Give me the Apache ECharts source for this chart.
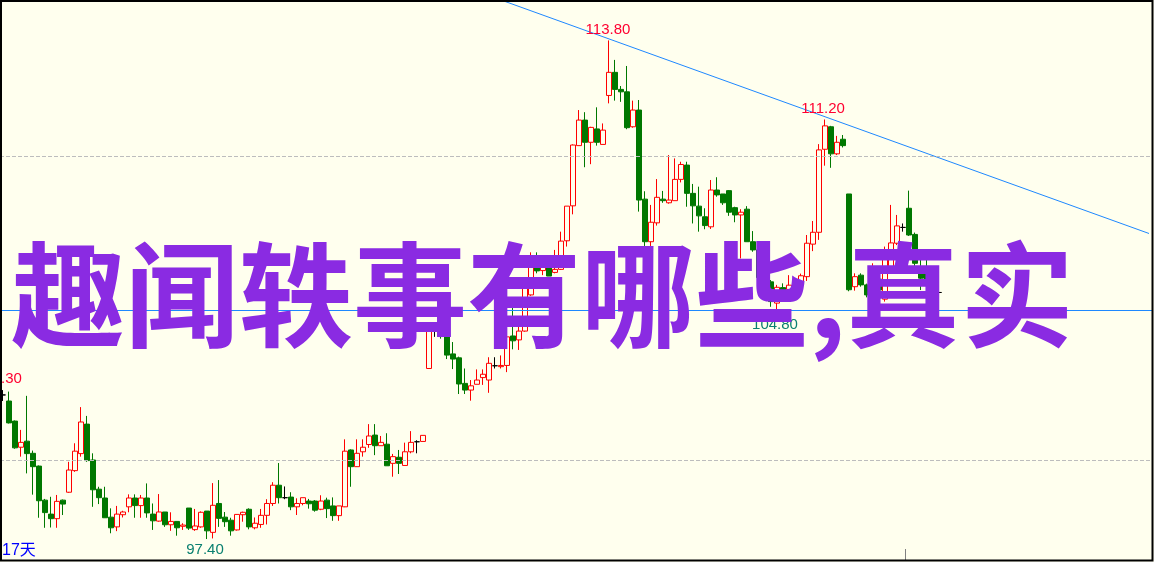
<!DOCTYPE html>
<html>
<head>
<meta charset="utf-8">
<script src="https://cdn.jsdelivr.net/npm/echarts@6/dist/echarts.min.js"></script>
<style>
html,body{margin:0;padding:0;background:#FFFFEE;}
#chart{width:1154px;height:562px;}
</style>
</head>
<body>
<div id="chart"></div>
<script>
// ---- data ----
const opens = [
102.14,101.94,101.28,100.42,100.62,100.22,99.80,98.68,98.22,98.07,
98.68,98.94,99.65,100.21,101.18,100.00,99.04,98.75,98.12,97.80,
98.20,98.46,98.75,98.50,98.75,98.22,97.99,98.29,97.87,97.98,
97.82,98.42,97.71,97.80,98.32,97.62,98.57,98.12,98.02,97.70,
98.20,98.38,97.77,97.88,98.18,98.57,99.17,98.76,98.78,98.46,
98.57,98.65,98.65,98.38,98.68,98.49,98.17,98.46,100.33,99.78,
100.27,100.51,100.82,100.47,100.52,99.89,100.09,99.82,100.27,100.60,
100.61,103.01,104.27,104.22,104.06,103.49,103.36,102.52,102.30,102.49,
102.71,102.63,103.10,103.07,103.11,104.08,103.95,104.24,105.43,106.38,
106.23,106.38,106.17,106.27,107.21,108.36,110.34,111.18,110.45,110.89,
110.38,111.99,112.75,112.19,112.11,110.96,111.51,108.58,107.18,107.80,
108.58,108.46,108.53,109.23,109.70,108.77,108.35,108.00,107.67,108.88,
108.75,108.86,108.30,108.06,108.25,107.18,106.91,106.00,105.86,105.16,
105.67,105.61,105.62,105.86,106.03,107.10,107.49,110.22,110.96,110.07,
110.55,108.75,105.70,106.08,105.76,105.45,105.95,105.29,106.36,107.13,
107.65,108.28,107.42,106.15,106.20,105.90,105.51];
const closes = [
102.14,101.22,100.40,100.58,100.21,99.78,98.66,98.27,98.07,98.64,
98.55,99.67,100.29,101.25,99.98,99.02,98.76,98.10,97.77,98.22,
98.29,98.75,98.50,98.75,98.26,98.00,98.29,97.87,97.98,97.77,
97.86,97.76,97.83,98.28,97.67,98.51,98.08,97.97,97.67,98.21,
98.28,97.80,97.92,98.18,98.57,99.17,98.76,98.76,98.46,98.57,
98.76,98.56,98.35,98.65,98.40,98.17,98.49,100.29,99.78,100.22,
100.42,100.79,100.47,100.58,99.81,100.11,99.89,100.27,100.58,100.60,
100.81,104.25,104.27,104.06,103.45,103.32,102.50,102.30,102.44,102.63,
102.82,103.18,103.10,103.11,104.05,103.92,104.24,105.70,106.36,106.22,
106.34,106.05,106.27,107.20,108.35,110.36,111.18,110.45,110.94,110.45,
110.85,112.75,112.19,112.11,110.93,111.51,108.55,107.18,107.82,108.64,
108.53,108.55,109.23,109.72,108.77,108.36,108.03,107.71,108.88,108.72,
108.46,108.15,108.06,108.15,107.18,106.91,106.00,105.65,105.21,105.68,
105.54,105.75,105.80,106.06,107.13,107.49,110.20,110.99,110.07,110.45,
110.34,105.60,106.03,105.76,105.43,105.90,105.59,106.64,107.14,107.70,
107.65,107.40,106.47,105.98,105.90,105.70,105.51];
const lows = [
101.94,101.20,100.37,100.11,99.56,98.86,98.10,97.77,97.78,97.77,
98.19,98.92,99.61,100.11,99.94,98.46,98.55,98.10,97.59,97.66,
98.11,98.28,98.10,98.10,98.10,97.70,97.97,97.80,97.67,97.51,
97.70,97.70,97.67,97.77,97.40,97.42,97.80,97.80,97.51,97.68,
97.97,97.72,97.72,97.77,97.88,98.49,98.57,98.71,98.35,98.19,
98.51,98.40,98.30,98.35,98.09,98.00,98.00,98.45,99.12,99.77,
100.11,100.40,100.16,100.47,99.81,99.45,99.54,99.82,100.22,100.22,
100.61,103.01,104.05,103.99,103.32,102.99,102.17,102.17,101.95,102.49,
102.47,102.21,103.01,103.01,102.89,103.64,103.62,104.22,105.40,106.14,
106.08,106.05,106.14,106.25,107.02,108.08,110.34,109.63,109.73,110.34,
110.38,111.73,111.82,111.78,110.88,110.93,108.17,107.04,107.04,107.71,
108.46,108.43,108.53,109.13,108.33,107.78,107.51,107.59,107.60,108.66,
108.39,108.03,107.82,106.63,107.18,106.85,105.90,105.40,105.04,104.95,
105.37,105.53,105.50,105.80,105.89,106.87,107.24,109.68,109.61,110.03,
110.28,105.55,105.57,105.70,105.35,105.30,105.50,105.21,106.30,107.07,
107.51,107.37,106.36,105.59,105.69,105.60,105.02];
const highs = [
102.30,102.25,101.30,100.99,102.11,100.31,99.82,98.72,98.79,98.85,
98.70,99.94,100.55,101.74,101.45,100.22,99.12,99.12,98.41,98.49,
98.33,98.87,98.87,98.85,99.23,98.57,98.88,98.29,98.28,97.98,
97.92,98.42,98.39,98.31,98.32,99.24,99.34,98.29,98.10,98.22,
98.30,98.41,98.11,98.39,98.71,99.27,99.90,99.13,98.94,98.74,
98.76,98.72,98.68,98.84,98.76,98.77,98.49,100.68,100.35,100.68,
100.68,101.18,101.18,100.79,100.88,100.20,100.33,100.57,100.95,100.65,
100.81,104.30,104.27,104.25,104.20,103.88,103.40,103.01,102.63,102.98,
102.98,103.38,103.38,103.44,104.08,105.04,104.44,105.81,106.83,106.83,
106.51,106.38,106.91,107.51,108.35,110.38,111.51,111.44,110.96,111.60,
111.07,113.80,113.16,112.30,112.96,111.82,111.84,108.84,108.39,109.24,
108.85,110.03,109.92,109.81,109.81,109.08,108.99,108.28,109.21,109.30,
108.75,108.88,108.33,108.25,108.35,107.53,107.00,106.10,105.92,105.76,
105.81,106.08,105.95,106.13,107.40,107.86,110.39,111.20,110.99,110.66,
110.69,108.75,106.14,106.14,105.80,106.47,106.00,107.02,108.39,108.06,
107.78,108.86,107.48,106.58,106.58,106.00,105.76];

const slotCount = 192;                 // candle slots across the window (incl. empty right side)
const gridValues = [110, 100];         // dashed reference levels
const supportLevel = 104.93;           // horizontal blue line
const trendLine = [[83, 115.13], [191, 107.45]]; // [slot index, price]
const highLowLabels = [
  {idx: 0,   price: 102.30, text: '102.30', kind: 'high', dx: -4},
  {idx: 101, price: 113.80, text: '113.80', kind: 'high', dx: -1},
  {idx: 137, price: 111.20, text: '111.20', kind: 'high', dx: -2},
  {idx: 129, price: 104.80, text: '104.80', kind: 'low',  dx: -2},
  {idx: 34,  price: 97.40,  text: '97.40',  kind: 'low',  dx: -2}
];
const periodLabel = '17天';
const overlayText = '趣闻轶事有哪些,真实';

// ---- build ----
const categories = [];
for (let i = 0; i < slotCount; i++) categories.push(String(i + 1));
const kData = [];
for (let i = 0; i < slotCount; i++) {
  if (i < opens.length) kData.push([opens[i], closes[i], lows[i], highs[i]]);
  else kData.push('-');
}

const BG = '#FFFFEE';
const UP = '#FF0000';
const DOWN = '#007800';
const BLUE = '#1E88FF';

const chart = echarts.init(document.getElementById('chart'), null, {renderer: 'canvas'});
chart.setOption({
  animation: false,
  backgroundColor: BG,
  grid: {left: 0, right: 2, top: 0, bottom: 0, containLabel: false},
  xAxis: {type: 'category', data: categories, show: false, boundaryGap: true},
  yAxis: {type: 'value', min: 96.645, max: 115.13, show: false, scale: true,
          splitLine: {show: false}},
  series: [
    {
      type: 'candlestick',
      data: kData,
      barWidth: 5,
      itemStyle: {
        color: BG, borderColor: UP,
        color0: DOWN, borderColor0: DOWN,
        borderColorDoji: '#000000',
        borderWidth: 1
      },
      markLine: {
        silent: true,
        symbol: ['none', 'none'],
        label: {show: false},
        data: [
          {yAxis: gridValues[0], lineStyle: {color: '#BDBDBD', type: [4, 2], width: 1}},
          {yAxis: gridValues[1], lineStyle: {color: '#BDBDBD', type: [4, 2], width: 1}},
          {yAxis: supportLevel, lineStyle: {color: BLUE, type: 'solid', width: 1}}
        ]
      },
      markPoint: {
        silent: true,
        symbol: 'circle',
        symbolSize: 1,
        itemStyle: {color: 'rgba(0,0,0,0)'},
        data: highLowLabels.map(d => ({
          coord: [d.idx, d.price],
          label: {
            show: true,
            position: 'inside',
            formatter: d.text,
            offset: [d.dx, d.kind === 'high' ? -11 : 11],
            color: d.kind === 'high' ? '#FF0030' : '#0A8070',
            fontFamily: '"Liberation Sans", Arial, sans-serif',
            fontSize: 15
          }
        }))
      }
    },
    {
      type: 'line',
      data: trendLine,
      showSymbol: false,
      symbol: 'none',
      silent: true,
      lineStyle: {color: BLUE, width: 1},
      z: 3
    }
  ],
  graphic: [
    {
      type: 'text', z: 100, silent: true,
      style: {
        text: overlayText, x: 11, y: 295,
        fontSize: 114, fontWeight: 'bold',
        fontFamily: '"Noto Sans CJK SC", sans-serif',
        fill: '#8A2BE2', verticalAlign: 'middle', align: 'left'
      }
    },
    {
      type: 'text', z: 100, silent: true,
      style: {
        text: periodLabel, x: 2, y: 551,
        fontSize: 16, fontFamily: '"Liberation Sans", "Noto Sans CJK SC", sans-serif',
        fill: '#0000FF', verticalAlign: 'middle', align: 'left'
      }
    },
    {
      type: 'line', z: 100, silent: true,
      shape: {x1: 905.5, y1: 549, x2: 905.5, y2: 560},
      style: {stroke: '#808080', lineWidth: 1}
    },
    {
      type: 'rect', z: 110, silent: true,
      shape: {x: 1, y: 1, width: 1151.5, height: 559.5},
      style: {fill: null, stroke: '#000000', lineWidth: 2}
    }
  ]
});
</script>
</body>
</html>
